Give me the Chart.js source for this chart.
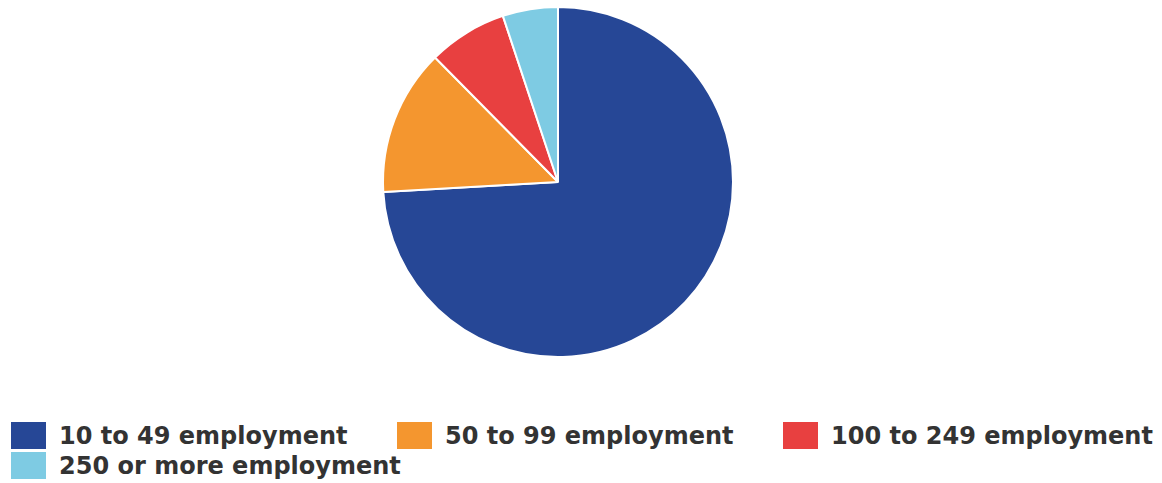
<!DOCTYPE html>
<html>
<head>
<meta charset="utf-8">
<script src="https://cdn.jsdelivr.net/npm/chart.js@4"></script>
<style>
  body { margin: 0; background: #fff; width: 1162px; height: 483px; overflow: hidden; }
  #wrap { position: absolute; left: 0; top: 0; width: 1162px; height: 364px; }
  #legend {
    position: absolute; left: 11px; top: 422px;
    display: grid; grid-template-columns: repeat(3, 386px); row-gap: 3px;
    font-family: "DejaVu Sans", sans-serif; font-weight: bold; font-size: 24px; color: #333;
  }
  .item { display: flex; align-items: center; height: 27px; white-space: nowrap; }
  .box { width: 35px; height: 27px; margin-right: 13px; flex: none; }
</style>
</head>
<body>
<div id="wrap"><canvas id="myChart"></canvas></div>
<div id="legend"></div>
<script>
const labels = ['10 to 49 employment', '50 to 99 employment', '100 to 249 employment', '250 or more employment'];
const shares = [74.1, 13.5, 7.3, 5.1];
const colors = ['#264796', '#f4962f', '#e84040', '#7ecbe3'];

const ctx = document.getElementById('myChart').getContext('2d');
const chart = new Chart(ctx, {
  type: 'pie',
  data: {
    labels: labels,
    datasets: [{
      data: shares,
      backgroundColor: colors,
      borderColor: '#fff',
      borderWidth: 2
    }]
  },
  options: {
    responsive: true,
    maintainAspectRatio: false,
    animation: false,
    layout: { padding: { top: 6, bottom: 6, left: 0, right: 46 } },
    plugins: {
      legend: { display: false },
      tooltip: { enabled: false }
    }
  }
});

// legend built from the chart's own labels
const legend = document.getElementById('legend');
chart.options.plugins.legend.labels.generateLabels(chart).forEach(item => {
  const el = document.createElement('div');
  el.className = 'item';
  const box = document.createElement('span');
  box.className = 'box';
  box.style.background = item.fillStyle;
  el.appendChild(box);
  el.appendChild(document.createTextNode(item.text));
  legend.appendChild(el);
});
</script>
</body>
</html>
